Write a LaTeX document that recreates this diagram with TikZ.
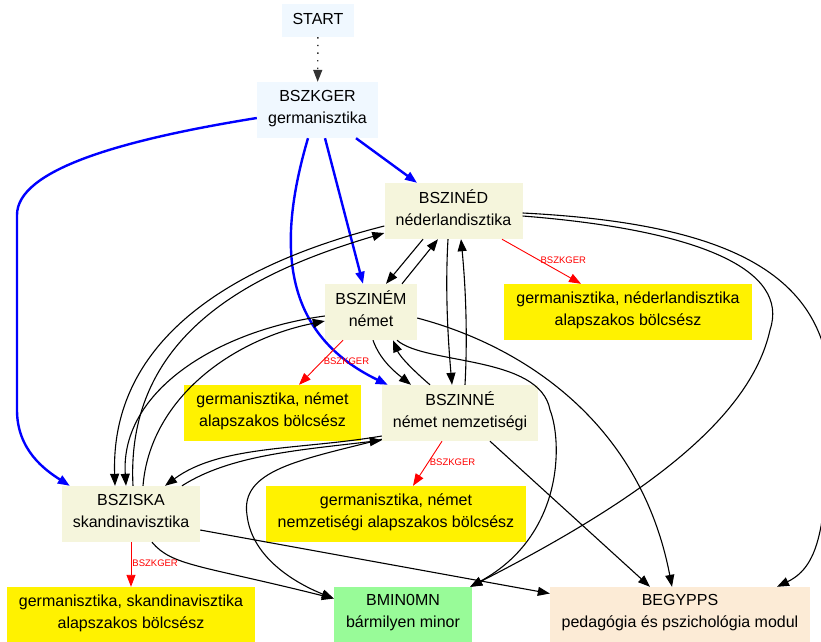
\documentclass[tikz,border=0pt]{standalone}
\usepackage{fontspec}
\setmainfont{Liberation Sans}
\usepackage{xcolor}
\usetikzlibrary{arrows.meta}
\definecolor{aliceblue}{HTML}{F0F8FF}
\definecolor{beigebox}{HTML}{F5F5DC}
\definecolor{mingreen}{HTML}{98FB98}
\definecolor{modpeach}{HTML}{FCEBD6}

\begin{document}
\begin{tikzpicture}[x=1pt, y=-1pt,
  box/.style={inner sep=0pt, align=center, font=\fontsize{16}{22}\selectfont,
    execute at begin node=\strut, execute at end node=\strut},
  edge/.style={-{Triangle[length=12pt,width=9pt]}, line width=1.1pt},
  req/.style={edge, blue, line width=2.4pt},
  deg/.style={edge, red, line width=0.9pt},
  degl/.style={pos=0.47, anchor=west, inner sep=1pt, font=\fontsize{9.5}{10}\selectfont, text=red}]
\useasboundingbox (0,0) rectangle (821,641);

% nodes
\node[box, fill=aliceblue, minimum width=72pt, minimum height=33pt] (start) at (318,20.5) {START};
\node[box, fill=aliceblue, minimum width=121pt, minimum height=56pt] (bszkger) at (317.5,110) {BSZKGER\\germanisztika};
\node[box, fill=beigebox, minimum width=138pt, minimum height=56pt] (bszined) at (453.5,211) {BSZINÉD\\néderlandisztika};
\node[box, fill=beigebox, minimum width=92pt, minimum height=56pt] (bszinem) at (371,312) {BSZINÉM\\német};
\node[box, fill=beigebox, minimum width=156pt, minimum height=56pt] (bszinne) at (460,413) {BSZINNÉ\\német nemzetiségi};
\node[box, fill=beigebox, minimum width=138pt, minimum height=56pt] (bsziska) at (131,514) {BSZISKA\\skandinavisztika};
\node[box, fill=yellow, minimum width=248pt, minimum height=56pt] (gned) at (628,312) {germanisztika, néderlandisztika\\alapszakos bölcsész};
\node[box, fill=yellow, minimum width=177pt, minimum height=56pt] (gnem) at (272.5,413) {germanisztika, német\\alapszakos bölcsész};
\node[box, fill=yellow, minimum width=260pt, minimum height=56pt] (gnne) at (396,514) {germanisztika, német\\nemzetiségi alapszakos bölcsész};
\node[box, fill=yellow, minimum width=248pt, minimum height=55pt] (gska) at (131,614.5) {germanisztika, skandinavisztika\\alapszakos bölcsész};
\node[box, fill=mingreen, minimum width=138pt, minimum height=55pt] (bmin) at (403,614.5) {BMIN0MN\\bármilyen minor};
\node[box, fill=modpeach, minimum width=260pt, minimum height=55pt] (begypps) at (680,614.5) {BEGYPPS\\pedagógia és pszichológia modul};

\draw[edge, line width=1.4pt, black!80, dash pattern=on 1.4pt off 6.2pt] (start) -- (bszkger);

% blue
\draw[req] ([xshift=38.5pt]bszkger.south) -- ([xshift=-36.5pt]bszined.north);
\draw[req] ([xshift=7.5pt]bszkger.south) -- ([xshift=-8pt]bszinem.north);
\draw[req] ([xshift=-9.5pt]bszkger.south) .. controls (275,250) and (285,335) .. ([xshift=6pt]bszinne.north west);
\draw[req] ([yshift=-8pt]bszkger.west) .. controls (120,140) and (17,170) .. (17,215) -- (17,410) .. controls (17,450) and (45,470) .. ([xshift=8pt]bsziska.north west);

% black
\draw[edge] ([xshift=-30.5pt]bszined.south) -- ([xshift=15pt]bszinem.north);
\draw[edge] ([xshift=31pt]bszinem.north) -- ([xshift=-15.5pt]bszined.south);
\draw[edge] ([xshift=-5.5pt]bszined.south) .. controls (445,290) and (448,340) .. ([xshift=-8pt]bszinne.north);
\draw[edge] ([xshift=5pt]bszinne.north) .. controls (468,330) and (465,280) .. ([xshift=7.5pt]bszined.south);
\draw[edge] ([xshift=2pt]bszinem.south) .. controls (380,360) and (395,372) .. ([xshift=-49pt]bszinne.north);
\draw[edge] ([xshift=-30pt]bszinne.north) .. controls (415,372) and (400,357) .. ([xshift=22pt]bszinem.south);
\draw[edge] ([xshift=26pt]bszinem.south) .. controls (425,365) and (540,355) .. (550,410) .. controls (562,440) and (565,535) .. ([xshift=-2pt]bmin.north east);
\draw[edge] ([yshift=-5pt]bszined.east) .. controls (700,230) and (790,270) .. (770,330) .. controls (750,420) and (640,500) .. ([xshift=-2pt]bmin.north east);
\draw[edge] ([yshift=-2pt]bszined.east) .. controls (760,225) and (840,290) .. (830,420) .. controls (825,520) and (822,565) .. ([xshift=97pt]begypps.north);
\draw[edge] ([yshift=-6pt]bszinem.east) .. controls (520,345) and (640,420) .. ([xshift=-8pt]begypps.north);
\draw[edge] ([xshift=30pt]bszinne.south) -- ([xshift=-30pt]begypps.north);
\draw[edge] ([yshift=-16pt]bsziska.east) -- ([yshift=21pt]begypps.west);
\draw[edge] ([xshift=21pt]bsziska.south) .. controls (172,566) and (200,565) .. ([yshift=16pt]bmin.west);
\draw[edge] ([yshift=2pt]bszinne.south west) .. controls (300,460) and (240,470) .. (247,515) .. controls (252,560) and (300,585) .. ([yshift=16pt]bmin.west);
\draw[edge] ([xshift=51pt]bsziska.north) .. controls (230,455) and (300,450) .. ([yshift=1pt]bszinne.south west);
\draw[edge] ([yshift=-23pt]bszinne.west) .. controls (300,450) and (220,445) .. ([xshift=34pt]bsziska.north);
\draw[edge] ([yshift=-15pt]bszined.west) .. controls (250,260) and (110,330) .. ([xshift=-16pt]bsziska.north);
\draw[edge] ([xshift=2pt]bsziska.north) .. controls (125,330) and (260,270) .. ([yshift=-22pt]bszined.west);
\draw[edge] ([yshift=-4pt]bszinem.west) .. controls (220,330) and (120,390) .. ([xshift=-5pt]bsziska.north);
\draw[edge] ([xshift=12pt]bsziska.north) .. controls (150,400) and (230,340) .. ([yshift=-9pt]bszinem.west);

% red
\draw[deg] ([xshift=48.5pt]bszined.south) -- node[degl]{BSZKGER} ([xshift=-47pt]gned.north);
\draw[deg] ([xshift=-28pt]bszinem.south) -- node[degl]{BSZKGER} ([xshift=26.5pt]gnem.north);
\draw[deg] ([xshift=-18pt]bszinne.south) -- node[degl]{BSZKGER} ([xshift=17pt]gnne.north);
\draw[deg] (bsziska) -- node[degl]{BSZKGER} (gska);
\end{tikzpicture}
\end{document}
